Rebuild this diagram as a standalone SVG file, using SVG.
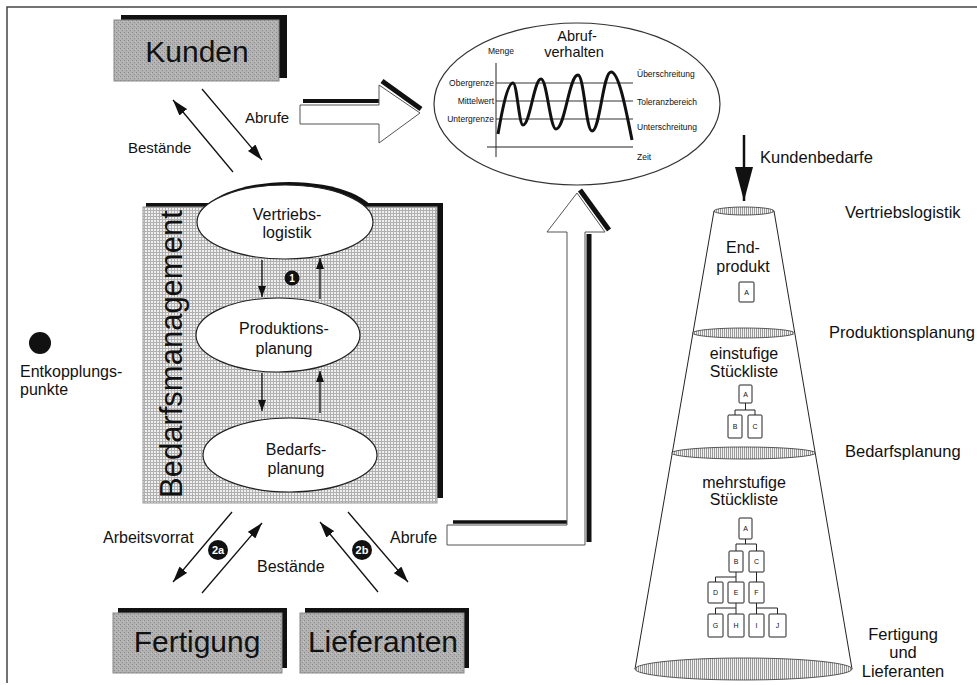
<svg xmlns="http://www.w3.org/2000/svg" width="977" height="685" viewBox="0 0 977 685">
<defs>
<style>
text{font-family:"Liberation Sans",Arial,Helvetica,sans-serif;fill:#111}
.lbl{font-size:15px}
.lbl16{font-size:16px}
.big{font-size:30px;text-anchor:middle}
.el{font-size:16px;text-anchor:middle}
.sm{font-size:8.5px}
.cl{font-size:16.5px}
.thin{stroke:#111;stroke-width:1.3;fill:none}
.box{fill:url(#stip);stroke:#888;stroke-width:1}
.shadow{fill:#111}
.nell{fill:#fff;stroke:#222;stroke-width:1.2}
.tb{fill:#fff;stroke:#222;stroke-width:1}
.tl{font-size:7px;text-anchor:middle}
.tree{stroke:#222;stroke-width:1;fill:none}
.hol{fill:#fff;stroke:#555;stroke-width:1}
.hs{stroke:#111;fill:none;stroke-linecap:butt}
.num{fill:#fff;font-weight:bold;text-anchor:middle}
</style>
<pattern id="grid" width="3" height="3" patternUnits="userSpaceOnUse"><rect width="3" height="3" fill="#efefef"/><path d="M0,0.5H3M0.5,0V3" stroke="#b0b0b0" stroke-width="1"/></pattern>
<pattern id="stip" width="4" height="4" patternUnits="userSpaceOnUse"><rect width="4" height="4" fill="#b2b2b2"/><rect x="0" y="0" width="1" height="1" fill="#888"/><rect x="2" y="2" width="1" height="1" fill="#8c8c8c"/><rect x="3" y="1" width="1" height="1" fill="#c4c4c4"/></pattern>
<pattern id="hatch" width="2" height="4" patternUnits="userSpaceOnUse"><rect width="2" height="4" fill="#f2f2f2"/><rect x="0" y="0" width="1" height="4" fill="#9a9a9a"/></pattern>
<marker id="ah" viewBox="0 0 16 10" refX="16" refY="5" markerWidth="16" markerHeight="10" markerUnits="userSpaceOnUse" orient="auto"><path d="M0,0L16,5L0,10z" fill="#111"/></marker>
<marker id="ahs" viewBox="0 0 11 8" refX="11" refY="4" markerWidth="11" markerHeight="8" markerUnits="userSpaceOnUse" orient="auto"><path d="M0,0L11,4L0,8z" fill="#111"/></marker>
<marker id="ahb" viewBox="0 0 34 18" refX="34" refY="9" markerWidth="34" markerHeight="18" markerUnits="userSpaceOnUse" orient="auto"><path d="M0,0L34,9L0,18z" fill="#111"/></marker>
</defs>

<rect width="977" height="685" fill="#fff"/>
<g id="frame" stroke="#444" stroke-width="1.5" fill="none">
<path d="M7,683V7H977"/>
</g>

<g id="kunden">
<rect class="shadow" x="121" y="15" width="166" height="63"/>
<rect class="box" x="114" y="20" width="165" height="61"/>
<text class="big" x="197" y="62">Kunden</text>
</g>

<g id="bedarfsmanagement">
<rect class="shadow" x="146" y="203" width="297" height="295"/>
<ellipse class="shadow" cx="289" cy="219" rx="88" ry="37"/>
<rect x="143" y="207" width="294" height="296" fill="url(#grid)" stroke="#999" stroke-width="1"/>
<text transform="translate(182,498) rotate(-90)" font-size="31">Bedarfsmanagement</text>
</g>

<g id="vertriebslogistik">
<ellipse class="nell" cx="285" cy="222" rx="88" ry="37"/>
<text class="el" x="287" y="220">Vertriebs-</text>
<text class="el" x="287" y="238">logistik</text>
</g>

<g id="produktionsplanung">
<ellipse class="nell" cx="278" cy="335" rx="82" ry="37"/>
<text class="el" x="284" y="334">Produktions-</text>
<text class="el" x="284" y="354">planung</text>
</g>

<g id="bedarfsplanung">
<ellipse class="nell" cx="290" cy="455" rx="87" ry="37"/>
<text class="el" x="296" y="455">Bedarfs-</text>
<text class="el" x="296" y="474">planung</text>
</g>

<g id="fertigung">
<rect class="shadow" x="118" y="608" width="169" height="60"/>
<rect class="box" x="113" y="613" width="169" height="60"/>
<text class="big" x="197" y="652">Fertigung</text>
</g>

<g id="lieferanten">
<rect class="shadow" x="305" y="608" width="164" height="60"/>
<rect class="box" x="300" y="613" width="164" height="60"/>
<text class="big" x="383" y="652">Lieferanten</text>
</g>

<g id="legend">
<circle cx="40" cy="343" r="11" fill="#111"/>
<text class="lbl16" x="20" y="377">Entkopplungs-</text>
<text class="lbl16" x="20" y="395">punkte</text>
</g>

<g id="abrufverhalten">
<ellipse cx="577" cy="104" rx="143" ry="81" fill="#fff" stroke="#333" stroke-width="1.2"/>
<text x="577" y="41" font-size="14.5" text-anchor="middle">Abruf-</text>
<text x="574" y="57" font-size="14.5" text-anchor="middle">verhalten</text>
<text class="sm" x="488" y="54">Menge</text>
<path d="M496,63V157M487,147H633" stroke="#222" stroke-width="1" fill="none"/>
<path d="M496,83H633M496,101H633M496,119H633" stroke="#333" stroke-width="1" fill="none"/>
<text class="sm" x="494" y="86" text-anchor="end">Obergrenze</text>
<text class="sm" x="494" y="104" text-anchor="end">Mittelwert</text>
<text class="sm" x="494" y="122" text-anchor="end">Untergrenze</text>
<text class="sm" x="637" y="77">Überschreitung</text>
<text class="sm" x="637" y="105">Toleranzbereich</text>
<text class="sm" x="637" y="130">Unterschreitung</text>
<text class="sm" x="637" y="160">Zeit</text>
<path d="M498,134 C503,105 508,83 513,83 C517,83 519,125 523,125 C530,125 534,79 541,79 C547,79 550,129 556,129 C565,129 569,75 578,75 C584,75 586,131 592,131 C600,131 603,72 611,72 C619,72 626,110 632,140" stroke="#111" stroke-width="3" fill="none"/>
</g>

<g id="cone">
<path d="M714,211 L635,669 L852,669 L774,211 Z" fill="#fff" stroke="#222" stroke-width="1"/>
<ellipse cx="744" cy="211" rx="30" ry="4" fill="url(#hatch)" stroke="#333" stroke-width="0.8"/>
<ellipse cx="743.5" cy="333" rx="51" ry="5" fill="url(#hatch)" stroke="#333" stroke-width="0.8"/>
<ellipse cx="743.5" cy="453" rx="72" ry="6" fill="url(#hatch)" stroke="#333" stroke-width="0.8"/>
<ellipse cx="743.5" cy="669" rx="108.5" ry="11" fill="url(#hatch)" stroke="#333" stroke-width="0.8"/>
<text class="el" x="743" y="253">End-</text>
<text class="el" x="743" y="272">produkt</text>
<rect class="tb" x="739" y="282" width="15" height="20" rx="1"/>
<text class="tl" x="746.5" y="295">A</text>

<text class="el" x="744" y="359">einstufige</text>
<text class="el" x="744" y="377">Stückliste</text>
<path class="tree" d="M745.5,403V410M735,410H755M735,410V415M755,410V415"/>
<rect class="tb" x="739" y="385" width="13" height="18" rx="1"/>
<text class="tl" x="745.5" y="397">A</text>
<rect class="tb" x="728" y="415" width="14" height="23" rx="1"/>
<text class="tl" x="735" y="429">B</text>
<rect class="tb" x="748" y="415" width="14" height="23" rx="1"/>
<text class="tl" x="755" y="429">C</text>

<text class="el" x="744" y="488">mehrstufige</text>
<text class="el" x="744" y="505">Stückliste</text>
<path class="tree" d="M745.5,539V544M736,544H756.5M736,544V551M756.5,544V551M736,572V577M715.5,577H736M715.5,577V582M736,577V582M756.5,572V582M736,603V608M715.5,608H736M715.5,608V614M736,608V614M756.5,603V608M756.5,608H777.5M756.5,608V614M777.5,608V614"/>
<rect class="tb" x="739" y="518" width="13" height="21" rx="1"/>
<text class="tl" x="745.5" y="531">A</text>
<rect class="tb" x="729" y="551" width="14" height="21" rx="1"/>
<text class="tl" x="736" y="564">B</text>
<rect class="tb" x="749" y="551" width="15" height="21" rx="1"/>
<text class="tl" x="756.5" y="564">C</text>
<rect class="tb" x="708" y="582" width="15" height="21" rx="1"/>
<text class="tl" x="715.5" y="595">D</text>
<rect class="tb" x="728" y="582" width="16" height="21" rx="1"/>
<text class="tl" x="736" y="595">E</text>
<rect class="tb" x="749" y="582" width="15" height="21" rx="1"/>
<text class="tl" x="756.5" y="595">F</text>
<rect class="tb" x="708" y="614" width="15" height="23" rx="1"/>
<text class="tl" x="715.5" y="628">G</text>
<rect class="tb" x="728" y="614" width="16" height="23" rx="1"/>
<text class="tl" x="736" y="628">H</text>
<rect class="tb" x="749" y="614" width="15" height="23" rx="1"/>
<text class="tl" x="756.5" y="628">I</text>
<rect class="tb" x="769" y="614" width="17" height="23" rx="1"/>
<text class="tl" x="777.5" y="628">J</text>

<text class="cl" x="845" y="218">Vertriebslogistik</text>
<text class="cl" x="829" y="338">Produktionsplanung</text>
<text class="cl" x="845" y="457">Bedarfsplanung</text>
<text class="cl" x="903" y="640" text-anchor="middle">Fertigung</text>
<text class="cl" x="903" y="658" text-anchor="middle">und</text>
<text class="cl" x="903" y="677" text-anchor="middle">Lieferanten</text>
</g>

<g id="connectors">
<line class="thin" x1="233" y1="172" x2="173" y2="100" marker-end="url(#ah)"/>
<line class="thin" x1="202" y1="89" x2="262" y2="160" marker-end="url(#ah)"/>
<text class="lbl" x="245" y="123">Abrufe</text>
<text class="lbl" x="128" y="153">Bestände</text>

<path class="hs" d="M303,101H379" stroke-width="4"/>
<path class="hs" d="M382,81L421,109" stroke-width="5"/>
<path class="hol" d="M300,105H379V85L420,113L379,143V124H300Z"/>

<path class="hs" d="M453,522H567" stroke-width="3.5"/>
<path class="hs" d="M589,234V542" stroke-width="5"/>
<path class="hs" d="M580,190L609,230" stroke-width="5"/>
<path class="hol" d="M447,525H567V232H547L577,193L605,232H585V545H447Z"/>

<line class="thin" x1="262" y1="260" x2="262" y2="297" marker-end="url(#ahs)"/>
<line class="thin" x1="320" y1="299" x2="320" y2="258" marker-end="url(#ahs)"/>
<line class="thin" x1="262" y1="373" x2="262" y2="411" marker-end="url(#ahs)"/>
<line class="thin" x1="320" y1="413" x2="320" y2="371" marker-end="url(#ahs)"/>
<circle cx="292" cy="278" r="7.5" fill="#111"/>
<text class="num" x="292" y="282" font-size="10">1</text>

<line class="thin" x1="232" y1="512" x2="173" y2="582" marker-end="url(#ah)"/>
<line class="thin" x1="202" y1="593" x2="262" y2="523" marker-end="url(#ah)"/>
<line class="thin" x1="378" y1="592" x2="320" y2="522" marker-end="url(#ah)"/>
<line class="thin" x1="348" y1="512" x2="408" y2="582" marker-end="url(#ah)"/>
<circle cx="218" cy="550" r="10" fill="#111"/>
<text class="num" x="218" y="554" font-size="11">2a</text>
<circle cx="362" cy="550" r="10" fill="#111"/>
<text class="num" x="362" y="554" font-size="11">2b</text>
<text class="lbl16" x="103" y="543">Arbeitsvorrat</text>
<text class="lbl16" x="257" y="572">Bestände</text>
<text class="lbl16" x="390" y="543">Abrufe</text>

<line x1="744" y1="135" x2="744" y2="201" stroke="#111" stroke-width="2.5" marker-end="url(#ahb)"/>
<text class="cl" x="760" y="163">Kundenbedarfe</text>
</g>
</svg>
